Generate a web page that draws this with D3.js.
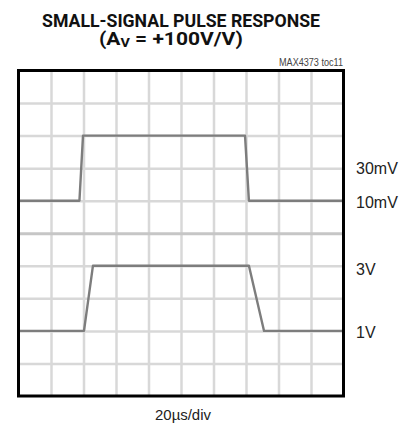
<!DOCTYPE html>
<html>
<head>
<meta charset="utf-8">
<script src="https://cdn.jsdelivr.net/npm/d3@7"></script>
<style>
  body { margin: 0; background: #fff; }
  svg { display: block; }
</style>
</head>
<body>
<div id="chart"></div>
<script>
const width = 406;
const height = 425;
const margin = { top: 70.5, right: 62.5, bottom: 29, left: 18.5 };

// time in µs (20µs/div, 10 divs), level in screen divisions from the bottom
const inputTime = [0, 37.5, 39.7, 139.4, 141.8, 200];
const inputLevel = [6, 6, 8, 8, 6, 6];
const outputTime = [0, 40.3, 45.8, 141.8, 151.1, 200];
const outputLevel = [2, 2, 4, 4, 2, 2];

const levelLabels = ["30mV", "10mV", "3V", "1V"];
const levelLabelPos = [7, 5.95, 3.9, 1.95];

const svg = d3.select("#chart")
    .append("svg")
    .attr("width", width)
    .attr("height", height)

const x = d3.scaleLinear()
    .domain([0, 200])
    .range([margin.left, width - margin.right])

const y = d3.scaleLinear()
    .domain([0, 10])
    .range([height - margin.bottom, margin.top])

// grid
const xGrid = d3.axisBottom(x)
    .tickValues(d3.range(20, 200, 20))
    .tickSize(-(y(0) - y(10)))
    .tickFormat("")

const yGrid = d3.axisLeft(y)
    .tickValues(d3.range(1, 10))
    .tickSize(-(x(200) - x(0)))
    .tickFormat("")

svg.append("g")
    .attr("class", "xgrid")
    .attr("transform", `translate(0, ${y(0)})`)
    .call(xGrid)
    .call(g => g.select(".domain").remove())
    .selectAll("line")
    .attr("stroke", "#d8d8d8")
    .attr("stroke-width", 2.5)

svg.append("g")
    .attr("class", "ygrid")
    .attr("transform", `translate(${x(0)}, 0)`)
    .call(yGrid)
    .call(g => g.select(".domain").remove())
    .selectAll("line")
    .attr("stroke", d => d === 5 ? "#c6c6c6" : "#d8d8d8")
    .attr("stroke-width", d => d === 5 ? 3 : 2.5)

// traces
const line = d3.line()
    .x(d => x(d[0]))
    .y(d => y(d[1]))

const traces = [
    d3.zip(inputTime, inputLevel),
    d3.zip(outputTime, outputLevel)
]

svg.selectAll("path.trace")
    .data(traces)
    .join("path")
    .attr("class", "trace")
    .attr("fill", "none")
    .attr("stroke", "#7d7d7d")
    .attr("stroke-width", 2.4)
    .attr("stroke-linejoin", "round")
    .attr("d", d => line(d))

// frame
svg.append("rect")
    .attr("x", x(0))
    .attr("y", y(10))
    .attr("width", x(200) - x(0))
    .attr("height", y(0) - y(10))
    .attr("fill", "none")
    .attr("stroke", "#000")
    .attr("stroke-width", 3)

// level labels on the right
svg.selectAll("text.level")
    .data(levelLabels)
    .join("text")
    .attr("class", "level")
    .attr("x", 356)
    .attr("y", (d, i) => y(levelLabelPos[i]))
    .attr("dy", "0.36em")
    .attr("font-family", "'Liberation Sans Narrow', 'Liberation Sans', sans-serif")
    .attr("font-size", 16)
    .attr("fill", "#222")
    .text(d => d)

// titles
svg.append("text")
    .attr("x", 181)
    .attr("y", 27)
    .attr("text-anchor", "middle")
    .attr("font-family", "Roboto, 'Liberation Sans', sans-serif")
    .attr("font-weight", "bold")
    .attr("font-size", 19)
    .attr("textLength", 278)
    .attr("lengthAdjust", "spacingAndGlyphs")
    .attr("fill", "#111")
    .text("SMALL-SIGNAL PULSE RESPONSE")

const sub = svg.append("text")
    .attr("x", 99)
    .attr("y", 45.5)
    .attr("font-family", "Roboto, 'Liberation Sans', sans-serif")
    .attr("font-weight", "bold")
    .attr("font-size", 19)
    .attr("fill", "#111")

sub.append("tspan").text("(A")
sub.append("tspan").attr("font-size", 13).attr("dy", 2).text("V")
sub.append("tspan").attr("dy", -2).text(" = +100V/V)")

const subW = sub.node().getComputedTextLength()
sub.attr("transform", `translate(99, 0) scale(${144 / subW}, 1) translate(-99, 0)`)

svg.append("text")
    .attr("x", 343)
    .attr("y", 66)
    .attr("text-anchor", "end")
    .attr("font-family", "'Liberation Sans Narrow', 'Liberation Sans', sans-serif")
    .attr("font-size", 10)
    .attr("textLength", 64)
    .attr("lengthAdjust", "spacingAndGlyphs")
    .attr("fill", "#444")
    .text("MAX4373 toc11")

svg.append("text")
    .attr("x", 183)
    .attr("y", 420)
    .attr("text-anchor", "middle")
    .attr("font-family", "'Liberation Sans', sans-serif")
    .attr("font-size", 14)
    .attr("textLength", 56)
    .attr("lengthAdjust", "spacingAndGlyphs")
    .attr("fill", "#222")
    .text("20µs/div")
</script>
</body>
</html>
